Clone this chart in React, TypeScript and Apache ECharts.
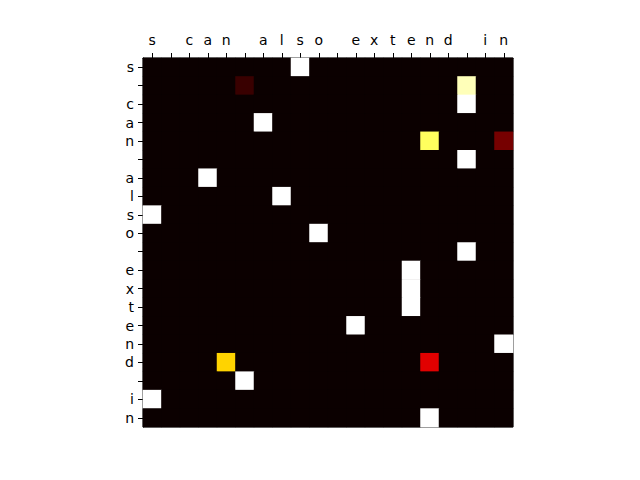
import React, { useEffect, useRef } from "react";
import * as echarts from "echarts";

const tokens: string[] = ["s", " ", "c", "a", "n", " ", "a", "l", "s", "o", " ", "e", "x", "t", "e", "n", "d", " ", "i", "n"];

// Non-zero attention weights: [row, col, value]; all other cells are 0
const nonZeroRows: number[] = [0, 1, 1, 2, 3, 4, 4, 5, 6, 7, 8, 9, 10, 11, 12, 13, 14, 15, 16, 16, 17, 18, 19];
const nonZeroCols: number[] = [8, 5, 17, 17, 6, 15, 19, 17, 3, 7, 0, 9, 17, 14, 14, 14, 11, 19, 4, 15, 5, 0, 15];
const nonZeroVals: number[] = [1, 0.07, 0.93, 1, 1, 0.84, 0.16, 1, 1, 1, 1, 1, 1, 1, 1, 1, 1, 1, 0.68, 0.32, 1, 1, 1];

// matplotlib "hot" colormap
function hot(t: number): string {
  const r = Math.min(1, 0.0416 + (1 - 0.0416) * (t / 0.365));
  const g = Math.max(0, Math.min(1, (t - 0.365) / (0.746 - 0.365)));
  const b = Math.max(0, Math.min(1, (t - 0.746) / (1 - 0.746)));
  const h = (v: number) => Math.round(v * 255).toString(16).padStart(2, "0");
  return "#" + h(r) + h(g) + h(b);
}

export default function App() {
  const ref = useRef<HTMLDivElement>(null);
  useEffect(() => {
    const chart = echarts.init(ref.current!, null, { renderer: "svg" });
    const n = tokens.length;
    const grid: number[][] = [];
    for (let r = 0; r < n; r++) grid.push(new Array(n).fill(0));
    nonZeroRows.forEach((r, i) => {
      grid[r][nonZeroCols[i]] = nonZeroVals[i];
    });
    const data: number[][] = [];
    for (let r = 0; r < n; r++) for (let c = 0; c < n; c++) data.push([c, r, grid[r][c]]);
    const colors: string[] = [];
    for (let i = 0; i <= 100; i++) colors.push(hot(i / 100));
    const labelStyle = { color: "#000", fontFamily: "DejaVu Sans", fontSize: 14 };
    chart.setOption({
      animation: false,
      backgroundColor: "#fff",
      grid: { left: 143, top: 58, width: 370, height: 369, show: true, borderColor: "#000", borderWidth: 1, backgroundColor: hot(0) },
      xAxis: {
        type: "category",
        position: "top",
        data: tokens,
        axisLine: { show: true, lineStyle: { color: "#000", width: 1 } },
        axisTick: { show: true, alignWithLabel: true, length: 5, lineStyle: { color: "#000" } },
        axisLabel: { ...labelStyle, interval: 0, margin: 11 },
        splitLine: { show: false },
        splitArea: { show: false },
      },
      yAxis: {
        type: "category",
        inverse: true,
        data: tokens,
        axisLine: { show: true, lineStyle: { color: "#000", width: 1 } },
        axisTick: { show: true, alignWithLabel: true, length: 5, lineStyle: { color: "#000" } },
        axisLabel: { ...labelStyle, interval: 0, margin: 9 },
        splitLine: { show: false },
        splitArea: { show: false },
      },
      visualMap: { show: false, min: 0, max: 1, dimension: 2, inRange: { color: colors } },
      series: [
        {
          type: "heatmap",
          data,
          itemStyle: { borderWidth: 0 },
          emphasis: { disabled: true },
        },
      ],
    });
    return () => chart.dispose();
  }, []);
  return <div ref={ref} style={{ width: 640, height: 480, position: "absolute", left: 0, top: 0 }} />;
}
